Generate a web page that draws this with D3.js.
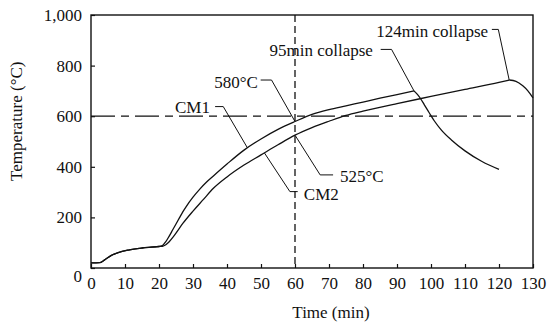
<!DOCTYPE html>
<html>
<head>
<meta charset="utf-8">
<script src="https://cdn.jsdelivr.net/npm/d3@7"></script>
<style>
  body { margin: 0; background: #fff; }
</style>
</head>
<body>
<div id="chart"></div>
<script>
// FIRE TEST TEMPERATURE CHART

// Data (time in min, temperature in °C)
var cm1Time = [0, 2.5, 4, 6, 8, 11, 15, 20, 21, 22, 23, 24, 25, 26, 27, 28, 30, 32, 34, 36, 40, 45, 50, 55, 60, 65, 70, 75, 80, 85, 90, 95];
var cm1Temp = [20, 21, 32, 50, 61, 71, 79, 85, 89, 104, 126, 150, 174, 198, 222, 243, 280, 312, 340, 364, 411, 466, 510, 548, 579, 607, 626, 641, 656, 671, 685, 700];
var cm1CollapseTime = [95, 96, 97, 98, 99, 100, 101, 103, 106, 110, 115, 120];
var cm1CollapseTemp = [700, 686, 668, 646, 624, 602, 581, 546, 506, 463, 421, 390];

var cm2Time = [0, 2.5, 4, 6, 8, 11, 15, 20, 21, 22, 23, 24, 25, 27, 30, 33, 36, 40, 45, 50, 55, 60, 65, 70, 75, 80, 90, 100, 110, 120, 123];
var cm2Temp = [20, 21, 32, 50, 61, 71, 79, 85, 86, 92, 104, 120, 138, 176, 225, 270, 315, 360, 407, 447, 487, 525, 555, 580, 603, 620, 650, 678, 706, 734, 743];
var cm2CollapseTime = [123, 125, 127, 128.5, 130];
var cm2CollapseTemp = [743, 738, 720, 700, 672];

var xTicks = [0, 10, 20, 30, 40, 50, 60, 70, 80, 90, 100, 110, 120, 130];
var yTicks = [0, 200, 400, 600, 800, 1000];
var refTemp = 600;
var refTime = 60;

// Annotations: label text plus leader line, all in data units
var labels = [
  { text: "CM1", at: [35, 612], anchor: "end", leader: [[36.5, 638], [38.9, 638], [46, 475]] },
  { text: "CM2", at: [62.6, 270], anchor: "start", leader: [[51, 455], [58.5, 302], [60.8, 302]] },
  { text: "580°C", at: [49.1, 711], anchor: "end", leader: [[49.9, 743], [53.1, 743], [60, 579]] },
  { text: "525°C", at: [73.2, 341], anchor: "start", leader: [[60, 525], [67.4, 368], [71.2, 368]] },
  { text: "95min collapse", at: [82.9, 838], anchor: "end", leader: [[85.2, 864], [88.4, 864], [95, 700]] },
  { text: "124min collapse", at: [116.8, 914], anchor: "end", leader: [[117.9, 943], [119.8, 943], [123, 743]] }
];

var serif = "Liberation Serif";

// 1. Set up the SVG area
var svgWidth = 549;
var svgHeight = 324;

var margin = { top: 15, right: 16, bottom: 56, left: 91 };
var width = svgWidth - margin.left - margin.right;
var height = svgHeight - margin.top - margin.bottom;

var svg = d3.select("#chart")
  .append("svg")
  .attr("width", svgWidth)
  .attr("height", svgHeight)
  .attr("font-family", serif);

var chartGroup = svg.append("g")
  .attr("transform", `translate(${margin.left}, ${margin.top})`);

// 2. Scales
var xScale = d3.scaleLinear().domain([0, 130]).range([0, width]);
var yScale = d3.scaleLinear().domain([0, 1000]).range([height, 0]);

// 3. Axes with inward ticks
var bottomAxis = d3.axisBottom(xScale)
  .tickValues(xTicks)
  .tickSizeInner(-4)
  .tickSizeOuter(0)
  .tickPadding(9);

var leftAxis = d3.axisLeft(yScale)
  .tickValues(yTicks)
  .tickFormat(d3.format(","))
  .tickSizeInner(-4)
  .tickSizeOuter(0)
  .tickPadding(9);

var xAxis = chartGroup.append("g")
  .attr("transform", `translate(0, ${height})`)
  .call(bottomAxis);

var yAxis = chartGroup.append("g")
  .call(leftAxis);

[xAxis, yAxis].forEach(function (ax) {
  ax.attr("font-family", serif).attr("font-size", 17);
  ax.select(".domain").remove();
  ax.selectAll("line").attr("stroke", "#111").attr("stroke-width", 1.2);
  ax.selectAll("text")
    .attr("font-family", serif)
    .attr("font-size", 17)
    .attr("fill", "#111");
});

// the zero on the y axis sits a little below its tick
yAxis.selectAll(".tick")
  .filter(d => d === 0)
  .select("text")
  .attr("y", 8);

// frame
chartGroup.append("rect")
  .attr("width", width)
  .attr("height", height)
  .attr("fill", "none")
  .attr("stroke", "#111")
  .attr("stroke-width", 1.4);

// 4. Reference lines
chartGroup.append("line")
  .attr("x1", 0)
  .attr("x2", width)
  .attr("y1", yScale(refTemp))
  .attr("y2", yScale(refTemp))
  .attr("stroke", "#111")
  .attr("stroke-width", 1.3)
  .attr("stroke-dasharray", "24,6,8,6");

chartGroup.append("line")
  .attr("x1", xScale(refTime))
  .attr("x2", xScale(refTime))
  .attr("y1", 0)
  .attr("y2", height)
  .attr("stroke", "#111")
  .attr("stroke-width", 1.3)
  .attr("stroke-dasharray", "7,4");

// 5. Curves
var line = d3.line()
  .x(d => xScale(d[0]))
  .y(d => yScale(d[1]))
  .curve(d3.curveMonotoneX);

var series = [
  d3.zip(cm1Time, cm1Temp),
  d3.zip(cm1CollapseTime, cm1CollapseTemp),
  d3.zip(cm2Time, cm2Temp),
  d3.zip(cm2CollapseTime, cm2CollapseTemp)
];

chartGroup.selectAll(".curve")
  .data(series)
  .enter()
  .append("path")
  .classed("curve", true)
  .attr("d", line)
  .attr("fill", "none")
  .attr("stroke", "#111")
  .attr("stroke-width", 1.3);

// 6. Labels with leader lines
var leader = d3.line()
  .x(d => xScale(d[0]))
  .y(d => yScale(d[1]));

chartGroup.selectAll(".leader")
  .data(labels)
  .enter()
  .append("path")
  .classed("leader", true)
  .attr("d", d => leader(d.leader))
  .attr("fill", "none")
  .attr("stroke", "#111")
  .attr("stroke-width", 1);

chartGroup.selectAll(".note")
  .data(labels)
  .enter()
  .append("text")
  .classed("note", true)
  .attr("x", d => xScale(d.at[0]))
  .attr("y", d => yScale(d.at[1]))
  .attr("text-anchor", d => d.anchor)
  .attr("font-family", serif)
  .attr("font-size", 17)
  .attr("fill", "#111")
  .text(d => d.text);

// 7. Axis titles
chartGroup.append("text")
  .attr("x", 240)
  .attr("y", height + 50)
  .attr("text-anchor", "middle")
  .attr("font-family", serif)
  .attr("font-size", 17)
  .attr("fill", "#111")
  .text("Time (min)");

chartGroup.append("text")
  .attr("transform", `translate(${-69}, ${yScale(580)}) rotate(-90)`)
  .attr("text-anchor", "middle")
  .attr("font-family", serif)
  .attr("font-size", 17)
  .attr("fill", "#111")
  .text("Temperature (°C)");
</script>
</body>
</html>
